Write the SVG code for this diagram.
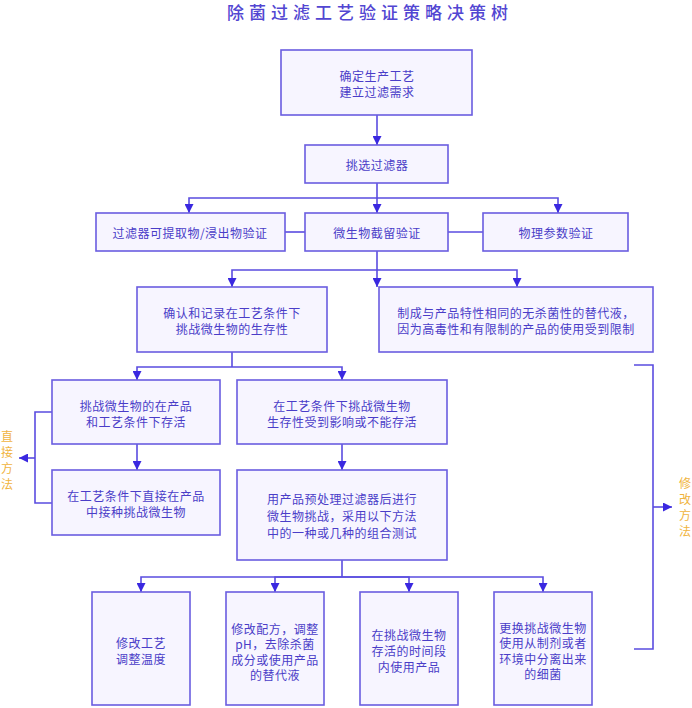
<svg xmlns="http://www.w3.org/2000/svg" width="692" height="708" viewBox="0 0 692 708">
<style>
.box{fill:#f7f5ff;stroke:#6a5de0;stroke-width:1.6}
.t{font-family:"Noto Sans CJK SC","Noto Sans",sans-serif;font-size:12px;letter-spacing:0.5px;fill:#4a3dc8;text-anchor:middle;dominant-baseline:central}
.title{font-family:"Noto Sans CJK SC","Noto Sans",sans-serif;font-size:17px;fill:#5246d2;text-anchor:middle;dominant-baseline:central;letter-spacing:5px;font-weight:500}
.side{font-family:"Noto Sans CJK SC","Noto Sans",sans-serif;font-size:12px;fill:#f0b440;text-anchor:middle;dominant-baseline:central}
.ln{fill:none;stroke:#5a4ce0;stroke-width:1.6}
.ar{fill:none;stroke:#5a4ce0;stroke-width:1.6;marker-end:url(#ah)}
</style>
<defs>
<marker id="ah" viewBox="0 0 10 10" refX="10" refY="5" markerWidth="9" markerHeight="9" markerUnits="userSpaceOnUse" orient="auto">
<path d="M0,0 L10,5 L0,10 z" fill="#3a28e0"/>
</marker>
</defs>
<rect width="692" height="708" fill="#ffffff"/>
<text class="title" x="370" y="11">除菌过滤工艺验证策略决策树</text>

<g id="connectors">
<path class="ar" d="M377,115 V145"/>
<path class="ar" d="M377,183 V213"/>
<path class="ar" d="M377,198 H189 V213"/>
<path class="ar" d="M377,198 H558 V213"/>
<path class="ln" d="M285,232 H305"/>
<path class="ln" d="M448,232 H483"/>
<path class="ar" d="M377,251 V287"/>
<path class="ar" d="M377,270 H232 V287"/>
<path class="ar" d="M377,270 H517 V287"/>
<path class="ln" d="M232,352 V367"/>
<path class="ar" d="M232,367 H137 V380"/>
<path class="ar" d="M232,367 H342 V380"/>
<path class="ar" d="M137,444 V470"/>
<path class="ar" d="M342,444 V470"/>
<path class="ln" d="M52,412 H35 V503 H52"/>
<path class="ar" d="M35,458 H19"/>
<path class="ln" d="M342,560 V577"/>
<path class="ar" d="M342,577 H141 V592"/>
<path class="ar" d="M342,577 H275 V592"/>
<path class="ar" d="M342,577 H409 V592"/>
<path class="ar" d="M342,577 H543 V592"/>
<path class="ln" d="M634,365 H653 V649 H634"/>
<path class="ar" d="M653,507 H672"/>
</g>

<g id="n1"><rect class="box" x="281" y="50" width="191" height="65"/>
<text class="t" x="377" y="75">确定生产工艺</text><text class="t" x="377" y="91">建立过滤需求</text></g>

<g id="n2"><rect class="box" x="305" y="145" width="143" height="38"/>
<text class="t" x="377" y="164">挑选过滤器</text></g>

<g id="n3"><rect class="box" x="96" y="213" width="189" height="38"/>
<text class="t" x="190" y="232">过滤器可提取物/浸出物验证</text></g>

<g id="n4"><rect class="box" x="305" y="213" width="143" height="38"/>
<text class="t" x="377" y="232">微生物截留验证</text></g>

<g id="n5"><rect class="box" x="483" y="213" width="145" height="38"/>
<text class="t" x="556" y="232">物理参数验证</text></g>

<g id="n6"><rect class="box" x="137" y="287" width="190" height="65"/>
<text class="t" x="232" y="312">确认和记录在工艺条件下</text><text class="t" x="232" y="328">挑战微生物的生存性</text></g>

<g id="n7"><rect class="box" x="379" y="287" width="274" height="65"/>
<text class="t" x="516" y="312">制成与产品特性相同的无杀菌性的替代液，</text><text class="t" x="516" y="328">因为高毒性和有限制的产品的使用受到限制</text></g>

<g id="n8"><rect class="box" x="52" y="380" width="168" height="64"/>
<text class="t" x="136" y="405">挑战微生物的在产品</text><text class="t" x="136" y="421">和工艺条件下存活</text></g>

<g id="n9"><rect class="box" x="237" y="380" width="210" height="64"/>
<text class="t" x="342" y="405">在工艺条件下挑战微生物</text><text class="t" x="342" y="421">生存性受到影响或不能存活</text></g>

<g id="n10"><rect class="box" x="52" y="470" width="168" height="65"/>
<text class="t" x="136" y="495">在工艺条件下直接在产品</text><text class="t" x="136" y="511">中接种挑战微生物</text></g>

<g id="n11"><rect class="box" x="237" y="470" width="210" height="90"/>
<text class="t" x="342" y="498">用产品预处理过滤器后进行</text><text class="t" x="342" y="515">微生物挑战，采用以下方法</text><text class="t" x="342" y="532">中的一种或几种的组合测试</text></g>

<g id="n12"><rect class="box" x="92" y="592" width="98" height="113"/>
<text class="t" x="141" y="642">修改工艺</text><text class="t" x="141" y="658">调整温度</text></g>

<g id="n13"><rect class="box" x="226" y="592" width="98" height="113"/>
<text class="t" x="275" y="628">修改配方，调整</text><text class="t" x="275" y="643.5">pH，去除杀菌</text><text class="t" x="275" y="659">成分或使用产品</text><text class="t" x="275" y="674.5">的替代液</text></g>

<g id="n14"><rect class="box" x="360" y="592" width="98" height="113"/>
<text class="t" x="409" y="634">在挑战微生物</text><text class="t" x="409" y="650">存活的时间段</text><text class="t" x="409" y="666">内使用产品</text></g>

<g id="n15"><rect class="box" x="494" y="592" width="98" height="113"/>
<text class="t" x="543" y="627">更换挑战微生物</text><text class="t" x="543" y="642.5">使用从制剂或者</text><text class="t" x="543" y="658">环境中分离出来</text><text class="t" x="543" y="673.5">的细菌</text></g>

<g id="label-direct">
<text class="side" x="7" y="435">直</text><text class="side" x="7" y="451">接</text><text class="side" x="7" y="467">方</text><text class="side" x="7" y="483">法</text>
</g>
<g id="label-modify">
<text class="side" x="685" y="482">修</text><text class="side" x="685" y="498">改</text><text class="side" x="685" y="514">方</text><text class="side" x="685" y="530">法</text>
</g>
</svg>
